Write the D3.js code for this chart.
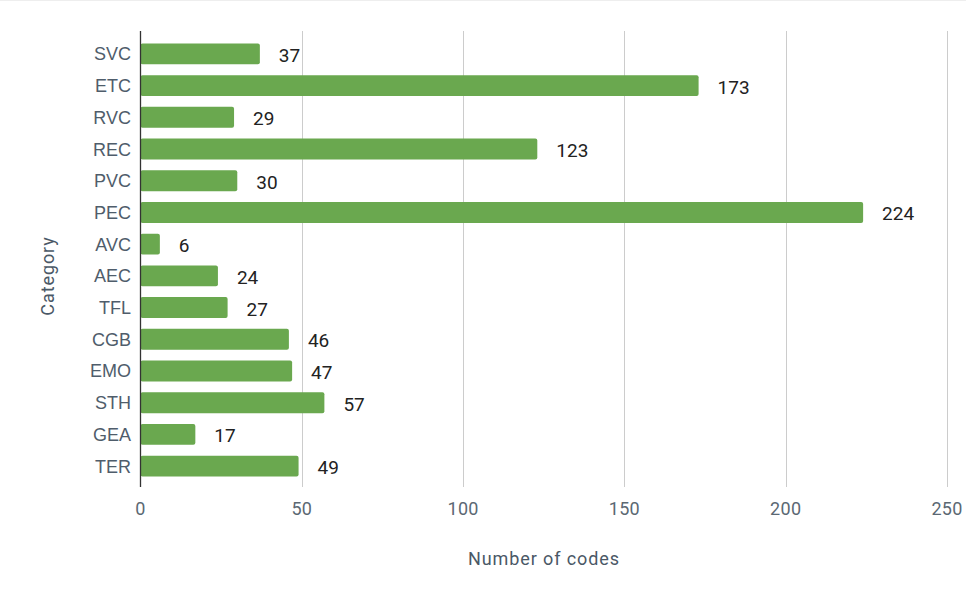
<!DOCTYPE html>
<html lang="en">
<head>
<meta charset="UTF-8">
<title>Number of codes per category</title>
<script src="https://d3js.org/d3.v7.min.js"></script>
<style>
    body { margin: 0; background: #fff; }
    text { font-family: Roboto, "Open Sans", sans-serif; }
    .grid line { stroke: #cccccc; stroke-width: 1px; }
    .tick-label { fill: #5b6873; font-size: 18px; letter-spacing: 0.3px; }
    .cat-label { fill: #4f5d6b; font-size: 18px; font-family: "Liberation Sans", Arial, sans-serif; }
    .value-label { fill: #222222; font-size: 19px; }
    .axis-title { fill: #4a5866; font-size: 18px; letter-spacing: 0.9px; }
</style>
</head>
<body>
<svg width="966" height="601"></svg>
<script>
    var categories = ["SVC", "ETC", "RVC", "REC", "PVC", "PEC", "AVC", "AEC", "TFL", "CGB", "EMO", "STH", "GEA", "TER"];
    var counts = [37, 173, 29, 123, 30, 224, 6, 24, 27, 46, 47, 57, 17, 49];
    var xTicks = [0, 50, 100, 150, 200, 250];

    var svg = d3.select("svg"),
        width = +svg.attr("width"),
        height = +svg.attr("height");

    // faint card border along the top
    svg.append("line")
        .attr("x1", 0).attr("x2", width)
        .attr("y1", 0.5).attr("y2", 0.5)
        .style("stroke", "#eeeeee");

    var plotL = 140.5, plotR = 947, plotT = 31, plotB = 487;

    var x = d3.scaleLinear().domain([0, 250]).range([plotL, plotR]);
    var y = d3.scaleBand()
        .domain(categories)
        .range([plotT + 1, plotB + 1])
        .paddingInner(0.34)
        .paddingOuter(0.36);

    var data = categories.map(function (c, i) { return { cat: c, n: counts[i] }; });

    // vertical grid lines
    svg.append("g")
        .attr("class", "grid")
        .selectAll("line")
        .data(xTicks.filter(function (t) { return t > 0; }))
        .enter().append("line")
        .attr("x1", function (d) { return Math.round(x(d)) + 0.5; })
        .attr("x2", function (d) { return Math.round(x(d)) + 0.5; })
        .attr("y1", plotT)
        .attr("y2", plotB);

    // bars
    svg.append("g")
        .selectAll("rect")
        .data(data)
        .enter().append("rect")
        .attr("x", x(0))
        .attr("y", function (d) { return y(d.cat); })
        .attr("width", function (d) { return x(d.n) - x(0); })
        .attr("height", y.bandwidth())
        .attr("rx", 2)
        .style("fill", "#6aa84f");

    // value labels
    svg.append("g")
        .selectAll("text")
        .data(data)
        .enter().append("text")
        .attr("class", "value-label")
        .attr("x", function (d) { return x(d.n) + 19; })
        .attr("y", function (d) { return y(d.cat) + y.bandwidth() / 2 + 8; })
        .text(function (d) { return d.n; });

    // category labels
    svg.append("g")
        .selectAll("text")
        .data(categories)
        .enter().append("text")
        .attr("class", "cat-label")
        .attr("text-anchor", "end")
        .attr("x", 131)
        .attr("y", function (d) { return y(d) + y.bandwidth() / 2 + 6.5; })
        .text(function (d) { return d; });

    // baseline
    svg.append("line")
        .attr("x1", plotL).attr("x2", plotL)
        .attr("y1", plotT).attr("y2", plotB)
        .style("stroke", "#333333")
        .style("stroke-width", 1.3);

    // x tick labels
    svg.append("g")
        .selectAll("text")
        .data(xTicks)
        .enter().append("text")
        .attr("class", "tick-label")
        .attr("text-anchor", "middle")
        .attr("x", function (d) { return x(d); })
        .attr("y", 515)
        .text(function (d) { return d; });

    // axis titles
    svg.append("text")
        .attr("class", "axis-title")
        .attr("text-anchor", "middle")
        .attr("x", 544)
        .attr("y", 565)
        .text("Number of codes");

    svg.append("text")
        .attr("class", "axis-title")
        .attr("text-anchor", "middle")
        .attr("transform", "translate(54,276) rotate(-90)")
        .text("Category");
</script>
</body>
</html>
